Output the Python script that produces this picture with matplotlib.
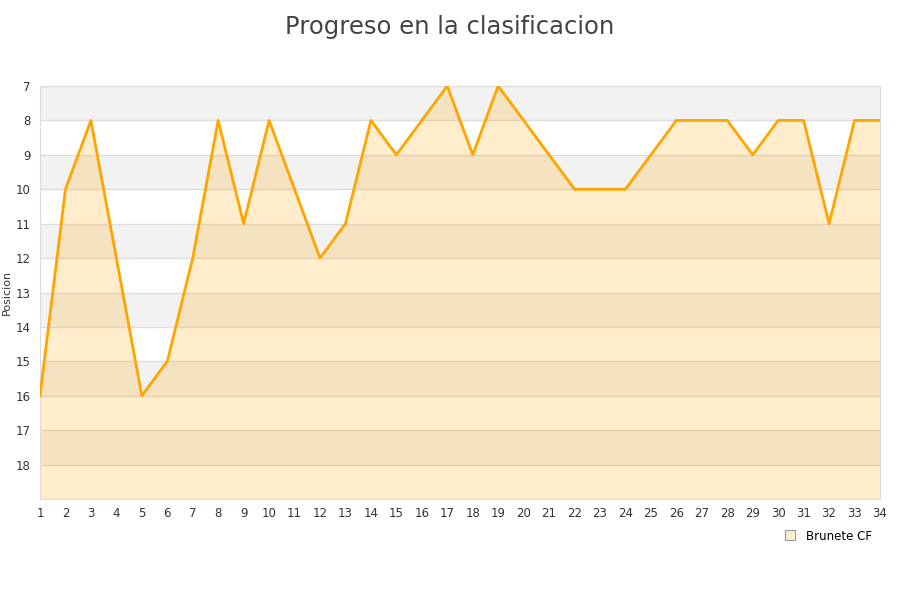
import numpy as np
import matplotlib
matplotlib.use("Agg")
import matplotlib.pyplot as plt
from matplotlib.lines import Line2D

# datos de la clasificacion por jornada
jornadas = list(range(1, 35))
posiciones = [16, 10, 8, 12, 16, 15, 12, 8, 11, 8, 10, 12, 11, 8, 9, 8, 7, 9, 7, 8,
              9, 10, 10, 10, 9, 8, 8, 8, 9, 8, 8, 11, 8, 8]
equipo = "Brunete CF"

fig = plt.figure(figsize=(9, 6), dpi=100)
ax = fig.add_axes([40/900, 1-499/600, 840/900, 413/600])

# bandas alternas
for y0 in range(7, 19, 2):
    ax.axhspan(y0, y0+1, color="#f2f2f2", zorder=0, lw=0)
for y in range(7, 20):
    ax.axhline(y, color="#dddddd", lw=1, zorder=1)

ax.fill_between(jornadas, posiciones, 19, color="#ffa500", alpha=0.2, lw=0, zorder=2)
ax.plot(jornadas, posiciones, color="#ffa500", lw=2, zorder=3)

ax.set_xlim(1, 34)
ax.set_ylim(19, 7)
ax.set_xticks(jornadas)
ax.set_yticks(range(7, 19))
ax.tick_params(length=0, labelsize=8.5, colors="#333333", pad=6)
ax.tick_params(axis="y", pad=7)
for s in ax.spines.values():
    s.set_color("#dddddd")
ax.set_ylabel("Posicion", fontsize=8, color="#333333")
ax.yaxis.set_label_coords(-28/840, 0.5)

fig.text(0.5, 0.975, "Progreso en la clasificacion", ha="center", va="top",
         fontsize=17.5, color="#444444")

h = Line2D([], [], marker="s", ls="none", markersize=7, markerfacecolor="#ffeecc",
           markeredgecolor="#999999", markeredgewidth=0.8)
fig.legend([h], [equipo], loc="center", bbox_to_anchor=(825/900, 1-536/600),
           frameon=False, fontsize=8.5, handletextpad=0.3)

fig.savefig("out.png")
